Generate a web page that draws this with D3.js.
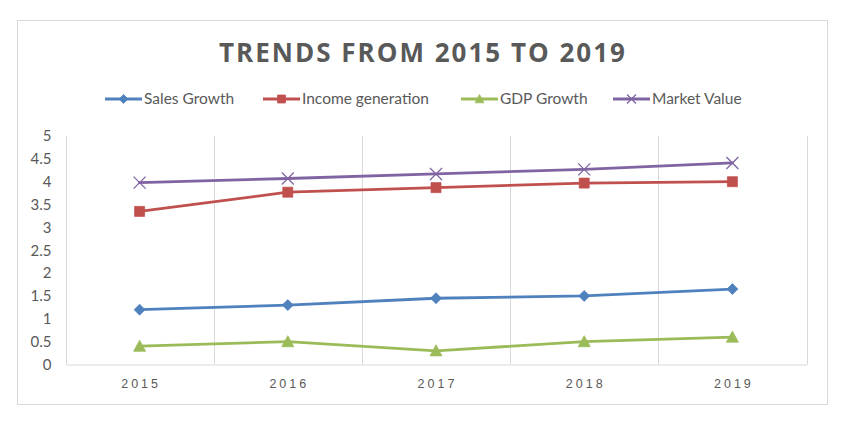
<!DOCTYPE html>
<html><head><meta charset="utf-8">
<script src="https://cdn.jsdelivr.net/npm/d3@7"></script>
<style>body{margin:0;background:#fff}svg{display:block}</style>
</head><body>
<svg id="c" width="857" height="429"></svg>
<script>
const years = ["2015","2016","2017","2018","2019"];
const salesGrowth = [1.2, 1.3, 1.45, 1.5, 1.65];
const incomeGeneration = [3.35, 3.77, 3.87, 3.97, 4.0];
const gdpGrowth = [0.4, 0.5, 0.3, 0.5, 0.6];
const marketValue = [3.98, 4.07, 4.17, 4.27, 4.41];
const yTicks = [0, 0.5, 1, 1.5, 2, 2.5, 3, 3.5, 4, 4.5, 5];
const seriesNames = ["Sales Growth", "Income generation", "GDP Growth", "Market Value"];
const title = "TRENDS FROM 2015 TO 2019";

const series = [
  {name: seriesNames[0], values: salesGrowth, color: "#4F81BD", marker: "diamond"},
  {name: seriesNames[1], values: incomeGeneration, color: "#C0504D", marker: "square"},
  {name: seriesNames[2], values: gdpGrowth, color: "#9BBB59", marker: "triangle"},
  {name: seriesNames[3], values: marketValue, color: "#8064A2", marker: "x"}
];

const svg = d3.select("#c");
const grid = "#d9d9d9", txt = "#595959";
const font = "Lato, 'Open Sans', sans-serif";

// outer border
svg.append("rect").attr("x",17.5).attr("y",20.5).attr("width",810).attr("height",384)
  .attr("fill","#fff").attr("stroke",grid).attr("stroke-width",1);

const plot = {left:65.5, right:806.5, top:136, bottom:364.5};
const x = d3.scaleBand().domain(years).range([plot.left, plot.right]);
const y = d3.scaleLinear().domain([0,5]).range([plot.bottom, plot.top]);

// vertical category gridlines at band edges
const edges = years.map(d => x(d)).concat([x.range()[1]]);
svg.append("g").selectAll("line").data(edges).join("line")
  .attr("x1", d=>Math.round(d)+0.5).attr("x2", d=>Math.round(d)+0.5)
  .attr("y1", plot.top).attr("y2", plot.bottom)
  .attr("stroke", grid).attr("stroke-width",1);

// x axis
const xAxis = svg.append("g").attr("transform",`translate(0,${plot.bottom})`)
  .call(d3.axisBottom(x).tickSize(0).tickPadding(15));
xAxis.select(".domain").attr("stroke",grid);
xAxis.selectAll("text").attr("fill",txt).attr("font-family","'Liberation Sans', Arial, sans-serif")
  .attr("font-size",12.5).style("letter-spacing","3px").attr("dx","1.5px");

// y axis
const yAxis = svg.append("g").attr("transform",`translate(${plot.left},0)`)
  .call(d3.axisLeft(y).tickValues(yTicks).tickSize(0).tickPadding(14).tickFormat(d3.format("")));
yAxis.select(".domain").remove();
yAxis.selectAll("text").attr("fill",txt).attr("font-family",font).attr("font-size",15);

// marker generator
function markerPath(type, s) {
  const h = s/2;
  if (type === "diamond") return `M0,${-h}L${h},0L0,${h}L${-h},0Z`;
  if (type === "square") return `M${-h},${-h}H${h}V${h}H${-h}Z`;
  if (type === "triangle") return `M0,${-h}L${h},${h*0.85}L${-h},${h*0.85}Z`;
  return `M${-h},${-h}L${h},${h}M${h},${-h}L${-h},${h}`;
}
function drawMarker(g, type, color, s) {
  const p = g.append("path").attr("d", markerPath(type, s));
  if (type === "x") p.attr("fill","none").attr("stroke",color).attr("stroke-width",1.3);
  else p.attr("fill",color).attr("stroke",color).attr("stroke-width",0.75);
}

const line = d3.line().x((d,i)=>x(years[i]) + x.bandwidth()/2).y(d=>y(d));
series.forEach(s => {
  svg.append("path").datum(s.values).attr("d", line).attr("fill","none")
    .attr("stroke", s.color).attr("stroke-width",2.8).attr("stroke-linejoin","round").attr("stroke-linecap","round");
});
series.forEach(s => {
  const size = s.marker==="square"?10:(s.marker==="diamond"?11:12);
  s.values.forEach((v,i) => {
    const g = svg.append("g").attr("transform",`translate(${x(years[i]) + x.bandwidth()/2},${y(v)})`);
    drawMarker(g, s.marker, s.color, size);
  });
});

// legend
const legendX = [105, 263, 461, 613];
const leg = svg.append("g");
series.forEach((s,i) => {
  const g = leg.append("g").attr("transform",`translate(${legendX[i]},99)`);
  g.append("line").attr("x1",0).attr("x2",37).attr("stroke",s.color).attr("stroke-width",2.8);
  drawMarker(g.append("g").attr("transform","translate(18.5,0)"), s.marker, s.color, s.marker==="square"?8:9);
  g.append("text").attr("x",39).attr("y",5).attr("fill",txt).attr("font-family",font)
    .attr("font-size",15.5).text(s.name);
});

// title
const t = svg.append("text").attr("x",422).attr("y",62).attr("text-anchor","middle")
  .attr("fill",txt).attr("font-family","'Open Sans', sans-serif").attr("font-weight","bold")
  .attr("font-size",26).text(title);
const w0 = t.node().getComputedTextLength();
const ls = Math.max(0, (406 - w0) / (title.length - 1));
t.style("letter-spacing", ls + "px").attr("dx", (ls/2) + "px");
</script>
</body></html>
